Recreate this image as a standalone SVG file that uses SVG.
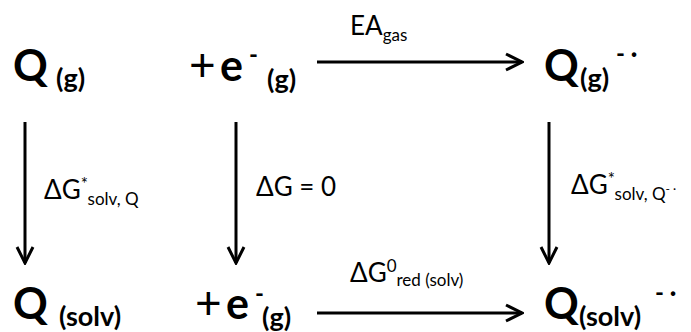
<svg xmlns="http://www.w3.org/2000/svg" width="691" height="332" viewBox="0 0 691 332">
<defs>
<style>
.t{font-family:Lato,"Open Sans","Liberation Sans",sans-serif;fill:#000}
.big{font-size:43px;font-weight:700}
.plus{font-size:46px;font-weight:400}
.sub{font-size:27px;font-weight:700}
.sup{font-size:24px;font-weight:700}
.lab{font-size:26px}
.ls{font-size:17px}
.ln{stroke:#000;stroke-width:3;fill:none}
</style>
<marker id="ah" viewBox="0 0 20 20" refX="18" refY="10" markerWidth="20" markerHeight="20" markerUnits="userSpaceOnUse" orient="auto">
<path d="M2,2 L18,10 L2,18" fill="none" stroke="#000" stroke-width="3"/>
</marker>
</defs>
<rect width="691" height="332" fill="#fff"/>
<g id="connectors">
<line class="ln" x1="317" y1="62" x2="522" y2="62" marker-end="url(#ah)"/>
<line class="ln" x1="317" y1="313" x2="522" y2="313" marker-end="url(#ah)"/>
<line class="ln" x1="25" y1="122" x2="25" y2="263" marker-end="url(#ah)"/>
<line class="ln" x1="236" y1="122" x2="236" y2="263" marker-end="url(#ah)"/>
<line class="ln" x1="549" y1="122" x2="549" y2="263" marker-end="url(#ah)"/>
</g>
<g id="Qg"><text class="t big" x="13" y="81">Q</text><text class="t sub" x="56" y="88">(g)</text></g>
<g id="eg"><text class="t plus" x="189" y="81">+</text><text class="t big" x="220" y="81">e</text><text class="t sup" x="249" y="63" font-weight="400">-</text><text class="t sub" x="267" y="89">(g)</text></g>
<g id="Qgrad"><text class="t big" x="544" y="81">Q</text><text class="t sub" x="580" y="88">(g)</text><text class="t sup" x="616" y="62">-  ·</text></g>
<g id="Qsolv"><text class="t big" x="13" y="319">Q</text><text class="t sub" x="59" y="326">(solv)</text></g>
<g id="esolv"><text class="t plus" x="195" y="319">+</text><text class="t big" x="226" y="319">e</text><text class="t sup" x="255" y="302" font-weight="400">-</text><text class="t sub" x="262" y="327">(g)</text></g>
<g id="Qsolvrad"><text class="t big" x="544" y="319">Q</text><text class="t sub" x="579" y="326">(solv)</text><text class="t sup" x="655" y="301">-  ·</text></g>
<g id="labels">
<text class="t lab" x="350" y="35">EA<tspan class="ls" dy="6">gas</tspan></text>
<text class="t lab" x="44" y="199">ΔG<tspan class="ls" dy="-9">*</tspan><tspan class="ls" dy="15">solv, Q</tspan></text>
<text class="t lab" x="256" y="196">ΔG = 0</text>
<text class="t lab" x="571" y="194">ΔG<tspan class="ls" dy="-9">*</tspan><tspan class="ls" dy="15">solv, Q</tspan><tspan font-size="12" dy="-7">- ·</tspan></text>
<text class="t lab" x="350" y="282">ΔG<tspan class="ls" dy="-10">0</tspan><tspan class="ls" dy="14">red (solv)</tspan></text>
</g>
</svg>
